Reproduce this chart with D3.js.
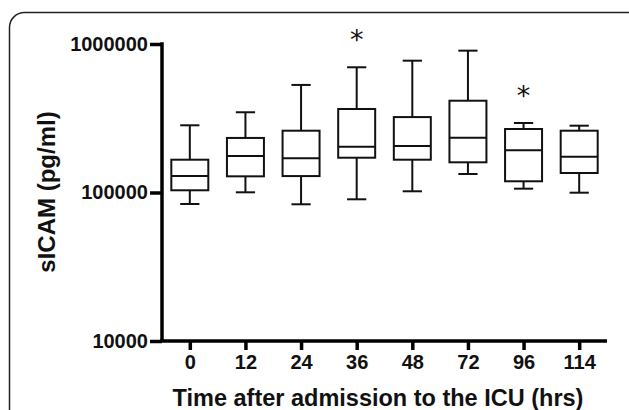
<!DOCTYPE html>
<html>
<head>
<meta charset="utf-8">
<script src="https://cdn.jsdelivr.net/npm/d3@7"></script>
<style>
  body { margin:0; background:#fff; }
  svg { display:block; font-family:'Liberation Sans', Arial, sans-serif; }
  .box, .whisker { fill:none; stroke:#111; stroke-width:2; }
  .axis path, .axis line { stroke:#000; stroke-width:3.5; }
  .axis text { font-family:'Liberation Sans', Arial, sans-serif; font-size:20px; font-weight:bold; fill:#111; }
</style>
</head>
<body>
<svg id="viewer"></svg>
<script>
// time points (hrs)
var times = ['0','12','24','36','48','72','96','114'];
// box stats, pg/ml
var lowWhisker = [83700, 100300, 83300, 90000, 101900, 133200, 106100, 99700];
var q1         = [103500, 128500, 129000, 171500, 166300, 159700, 119000, 135300];
var median     = [129000, 176000, 170000, 203000, 205600, 234000, 192400, 174200];
var q3         = [166300, 233000, 260700, 365000, 322000, 415000, 267700, 260700];
var highWhisker= [283500, 347000, 530000, 697000, 772000, 902000, 293800, 281800];
var significant= [false, false, false, true, false, false, true, false];
var yTicks = [10000, 100000, 1000000];

var viewer = d3.select('#viewer')
  .attr('width',629)
  .attr('height',410);

// rounded panel frame
viewer.append('rect')
  .attr('x',9.5).attr('y',12.5)
  .attr('width',640).attr('height',440)
  .attr('rx',15).attr('ry',15)
  .style('fill','none').style('stroke','#222').style('stroke-width',1.5);

var plotLeft = 162, plotRight = 607, plotTop = 44, plotBottom = 341;

var x = d3.scalePoint()
  .domain(times)
  .range([plotLeft,plotRight])
  .padding(0.5);

var y = d3.scaleLog()
  .domain([10000,1000000])
  .range([plotBottom,plotTop]);

var boxW = x.step()*0.665;
var capW = boxW*0.52;

var data = times.map(function(t,i){
  return {t:t, lo:lowWhisker[i], q1:q1[i], med:median[i], q3:q3[i], hi:highWhisker[i], sig:significant[i]};
});

var boxes = viewer.selectAll('.boxplot')
  .data(data)
  .enter().append('g')
    .attr('class','boxplot')
    .attr('transform',function(d){return 'translate('+x(d.t)+',0)';});

// whisker stems
boxes.append('line').attr('class','whisker')
  .attr('x1',0).attr('x2',0)
  .attr('y1',function(d){return y(d.hi);})
  .attr('y2',function(d){return y(d.q3);});
boxes.append('line').attr('class','whisker')
  .attr('x1',0).attr('x2',0)
  .attr('y1',function(d){return y(d.q1);})
  .attr('y2',function(d){return y(d.lo);});
// caps
boxes.append('line').attr('class','whisker')
  .attr('x1',-capW/2).attr('x2',capW/2)
  .attr('y1',function(d){return y(d.hi);})
  .attr('y2',function(d){return y(d.hi);});
boxes.append('line').attr('class','whisker')
  .attr('x1',-capW/2).attr('x2',capW/2)
  .attr('y1',function(d){return y(d.lo);})
  .attr('y2',function(d){return y(d.lo);});
// box
boxes.append('rect').attr('class','box')
  .attr('x',-boxW/2).attr('width',boxW)
  .attr('y',function(d){return y(d.q3);})
  .attr('height',function(d){return y(d.q1)-y(d.q3);});
// median
boxes.append('line').attr('class','whisker')
  .attr('x1',-boxW/2).attr('x2',boxW/2)
  .attr('y1',function(d){return y(d.med);})
  .attr('y2',function(d){return y(d.med);});
// significance stars
boxes.filter(function(d){return d.sig;})
  .append('text')
  .text('*')
  .attr('text-anchor','middle')
  .attr('y',function(d){return y(d.hi)-18;})
  .style('font-family',"'DejaVu Sans', sans-serif")
  .style('font-size','27px')
  .style('fill','#111');

// axes
var yAxis = viewer.append('g')
  .attr('class','axis')
  .attr('transform','translate('+plotLeft+',0)')
  .call(d3.axisLeft(y).tickValues(yTicks).tickFormat(d3.format('d')).tickSizeOuter(0).tickSize(12).tickPadding(2));
yAxis.select('.domain').attr('d','M0,'+(plotTop-1.75)+'V'+plotBottom);

var xAxis = viewer.append('g')
  .attr('class','axis')
  .attr('transform','translate(0,'+plotBottom+')')
  .call(d3.axisBottom(x).tickSizeOuter(0).tickSize(9).tickPadding(5));
xAxis.select('.domain').attr('d','M'+(plotLeft-1.75)+',0H'+plotRight);

// titles
viewer.append('text')
  .attr('transform','translate(55,192) rotate(-90)')
  .attr('text-anchor','middle')
  .style('font-size','24px').style('font-weight','bold').style('fill','#111')
  .text('sICAM (pg/ml)');

viewer.append('text')
  .attr('x',378).attr('y',406)
  .attr('text-anchor','middle')
  .style('font-size','23.5px').style('font-weight','bold').style('fill','#111')
  .text('Time after admission to the ICU (hrs)');
</script>
</body>
</html>
